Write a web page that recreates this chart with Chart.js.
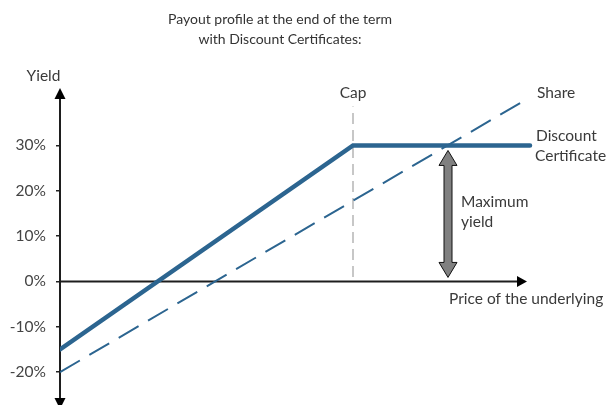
<!DOCTYPE html>
<html>
<head>
<meta charset="utf-8">
<script src="https://cdn.jsdelivr.net/npm/chart.js@4/dist/chart.umd.min.js"></script>
<style>
  body { margin: 0; background: #fff; }
  #wrap { width: 616px; height: 405px; position: relative; }
</style>
</head>
<body>
<div id="wrap"><canvas id="payoutChart"></canvas></div>
<script>
// chart values
const titleLines = ['Payout profile at the end of the term', 'with Discount Certificates:'];
const yTicks = [-20, -10, 0, 10, 20, 30];

const dcPrice = [0, 58.6, 94];
const dcYield = [-15, 30, 30];

const sharePrice = [0, 93.8];
const shareYield = [-20, 40.5];

const capPrice = [58.6, 58.6];
const capYield = [1, 38.6];

const maxYieldPrice = 77.6;
const maxYieldRange = [0, 30];

const xAxisEnd = 93.4;

const FONT = 'Lato, "Open Sans", sans-serif';
const BLUE = '#2c6590';

const toPoints = (xs, ys) => xs.map((x, i) => ({ x: x, y: ys[i] }));

// filled arrow head with its tip at (x, y)
const drawHead = (ctx, x, y, dir, size, half) => {
    ctx.beginPath();
    if (dir === 'up') {
        ctx.moveTo(x, y); ctx.lineTo(x - half, y + size); ctx.lineTo(x + half, y + size);
    } else if (dir === 'down') {
        ctx.moveTo(x, y); ctx.lineTo(x - half, y - size); ctx.lineTo(x + half, y - size);
    } else {
        ctx.moveTo(x, y); ctx.lineTo(x - size, y - half); ctx.lineTo(x - size, y + half);
    }
    ctx.closePath();
    ctx.fill();
};

const axesPlugin = {
    id: 'axesPlugin',
    beforeDatasetsDraw(chart) {
        const { ctx, scales: { x, y }, chartArea } = chart;
        const x0 = x.getPixelForValue(0);
        const y0 = y.getPixelForValue(0);
        ctx.save();
        ctx.strokeStyle = '#1e1e1e';
        ctx.fillStyle = '#000';
        ctx.lineWidth = 2;
        // y axis
        ctx.beginPath();
        ctx.moveTo(x0, chartArea.top + 6);
        ctx.lineTo(x0, chart.height);
        ctx.stroke();
        drawHead(ctx, x0, chartArea.top - 3, 'up', 11, 5.5);
        drawHead(ctx, x0, chart.height + 4, 'down', 11, 5.5);
        // x axis
        const xe = x.getPixelForValue(xAxisEnd);
        ctx.beginPath();
        ctx.moveTo(x0, y0);
        ctx.lineTo(xe - 8, y0);
        ctx.stroke();
        drawHead(ctx, xe, y0, 'right', 10, 5.5);
        ctx.restore();
    },
    afterDatasetsDraw(chart) {
        const { ctx, scales: { x, y } } = chart;
        ctx.save();

        // maximum yield double arrow
        const ax = x.getPixelForValue(maxYieldPrice);
        const top = y.getPixelForValue(maxYieldRange[1]) + 5;
        const bot = y.getPixelForValue(maxYieldRange[0]) - 4;
        const sw = 4, hw = 9, hh = 15;
        ctx.beginPath();
        ctx.moveTo(ax, top);
        ctx.lineTo(ax + hw, top + hh);
        ctx.lineTo(ax + sw, top + hh);
        ctx.lineTo(ax + sw, bot - hh);
        ctx.lineTo(ax + hw, bot - hh);
        ctx.lineTo(ax, bot);
        ctx.lineTo(ax - hw, bot - hh);
        ctx.lineTo(ax - sw, bot - hh);
        ctx.lineTo(ax - sw, top + hh);
        ctx.lineTo(ax - hw, top + hh);
        ctx.closePath();
        ctx.fillStyle = '#808080';
        ctx.fill();
        ctx.strokeStyle = '#111';
        ctx.lineWidth = 1;
        ctx.stroke();

        // labels
        ctx.fillStyle = '#3a3a3a';
        ctx.font = '15.5px ' + FONT;
        ctx.textBaseline = 'middle';
        ctx.textAlign = 'center';
        ctx.fillText('Yield', 43.5, 76);
        ctx.fillText('Cap', x.getPixelForValue(capPrice[0]), 93);
        ctx.textAlign = 'left';
        ctx.fillText('Share', 537, 93);
        ctx.fillText('Discount', 536, 136);
        ctx.fillText('Certificate', 535, 156);
        ctx.fillText('Maximum', 461, 202);
        ctx.fillText('yield', 461, 222);
        ctx.fillText('Price of the underlying', 449, 299);
        ctx.restore();
    }
};

new Chart(document.getElementById('payoutChart'), {
    type: 'line',
    data: {
        datasets: [
            {
                label: 'Discount Certificate',
                data: toPoints(dcPrice, dcYield),
                borderColor: BLUE,
                borderWidth: 4.5,
                borderJoinStyle: 'miter',
                borderCapStyle: 'round',
                pointRadius: 0,
                tension: 0,
                order: 1
            },
            {
                label: 'Share',
                data: toPoints(sharePrice, shareYield),
                borderColor: BLUE,
                borderWidth: 2,
                borderDash: [23, 11],
                pointRadius: 0,
                tension: 0,
                order: 2
            },
            {
                label: 'Cap',
                data: toPoints(capPrice, capYield),
                borderColor: '#b5b5b5',
                borderWidth: 1.5,
                borderDash: [11, 6],
                pointRadius: 0,
                tension: 0,
                order: 3
            }
        ]
    },
    options: {
        responsive: true,
        maintainAspectRatio: false,
        animation: false,
        layout: { padding: { left: 0, right: 56, top: 0, bottom: 2 } },
        plugins: {
            legend: { display: false },
            tooltip: { enabled: false },
            title: {
                display: true,
                text: titleLines,
                color: '#333',
                font: { family: FONT, size: 14, weight: 'normal', lineHeight: 1.43 },
                padding: { top: 9, bottom: 42 }
            }
        },
        scales: {
            x: { type: 'linear', min: 0, max: 100, display: false },
            y: {
                min: -23,
                max: 42,
                afterBuildTicks: (scale) => { scale.ticks = yTicks.map(v => ({ value: v })); },
                afterFit: (scale) => { scale.width = 60; },
                border: { display: false },
                grid: { drawOnChartArea: false, drawTicks: true, tickLength: 4, color: '#222', lineWidth: 1.5 },
                ticks: {
                    color: '#444',
                    padding: 10,
                    font: { family: FONT, size: 15.5 },
                    callback: (v) => v + '%'
                }
            }
        }
    },
    plugins: [axesPlugin]
});
</script>
</body>
</html>
